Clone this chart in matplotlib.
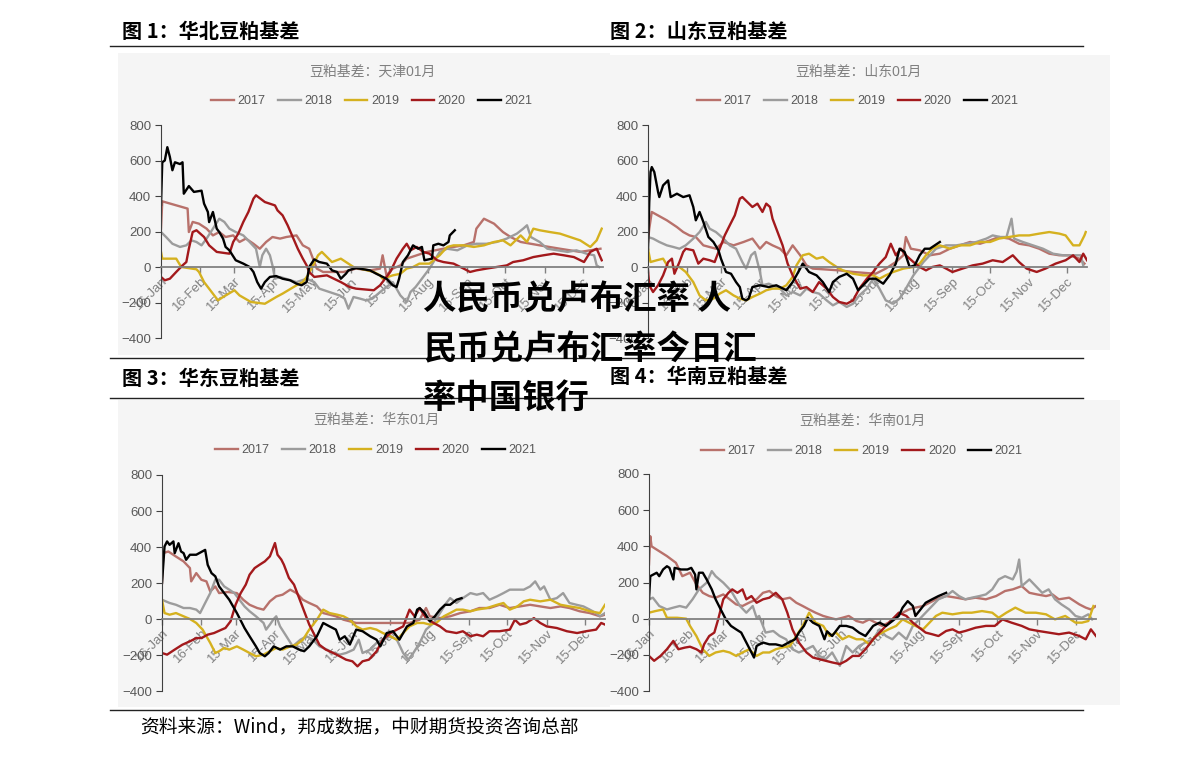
import numpy as np
import matplotlib.pyplot as plt
import matplotlib.dates as mdates
from matplotlib.lines import Line2D
from matplotlib.patches import Rectangle

plt.rcParams['font.family'] = ['Liberation Sans', 'Noto Sans CJK SC']

# days counted from 16-Jan
years = ['2017', '2018', '2019', '2020', '2021']
colors = ['#b8716b', '#9c9c9c', '#d5b11f', '#a3191c', '#000000']
tick_dates = ['2021-01-16', '2021-02-16', '2021-03-15', '2021-04-15', '2021-05-15', '2021-06-15',
              '2021-07-15', '2021-08-15', '2021-09-15', '2021-10-15', '2021-11-15', '2021-12-15']

# 图1 天津
tj_2017 = [(0,216),(1,370),(21,329),(22,197),(25,254),(30,244),(36,216),(41,178),(46,197),(51,169),(57,178),(62,141),(67,160),(73,131),(78,103),(83,141),(88,169),(94,160),(99,169),(107,178),(112,122),(117,103),(123,-9),(128,-28),(144,-28),(154,-9),(165,-19),(173,-9),(175,66),(178,-47),(183,-9),(189,9),(194,47),(202,66),(210,85),(223,103),(231,113),(239,122),(247,141),(249,216),(255,272),(263,244),(270,197),(276,169),(284,141),(299,122),(315,103),(331,85),(347,103)]
tj_2018 = [(0,197),(4,169),(9,131),(15,113),(20,122),(24,150),(28,141),(32,122),(36,160),(41,216),(46,272),(50,254),(54,216),(59,197),(65,178),(70,141),(75,103),(78,0),(80,66),(83,103),(86,66),(88,9),(90,-66),(94,-56),(107,-85),(115,-66),(121,-85),(125,-122),(133,-141),(141,-160),(145,-178),(148,-235),(152,-169),(157,-178),(162,-188),(167,-178),(173,-141),(178,-113),(183,-85),(189,-160),(194,-197),(197,-141),(201,-113),(204,-85),(208,-47),(212,-9),(216,38),(220,85),(226,103),(234,94),(242,122),(249,131),(257,131),(265,141),(273,160),(281,188),(286,216),(289,235),(292,169),(299,141),(305,103),(313,94),(321,85),(328,94),(336,75),(342,66),(344,9),(346,0)]
tj_2019 = [(0,85),(1,47),(12,47),(16,0),(28,-13),(30,-28),(34,-85),(40,-141),(45,-188),(49,-169),(58,-131),(62,-160),(71,-197),(82,-207),(91,-169),(96,-150),(107,-103),(112,-85),(116,-47),(120,9),(124,66),(127,85),(135,28),(142,47),(152,0),(168,-28),(173,-47),(175,-66),(183,-47),(189,-38),(194,-9),(199,0),(204,19),(212,19),(220,66),(226,113),(231,122),(239,122),(247,113),(255,122),(263,141),(270,150),(276,122),(284,178),(289,141),(294,216),(299,207),(307,197),(315,188),(323,169),(331,150),(339,113),(344,150),(348,216)]
tj_2020 = [(0,-56),(3,-75),(7,-66),(12,-28),(17,9),(20,28),(22,103),(25,197),(28,207),(34,169),(38,122),(44,85),(54,75),(57,141),(61,188),(65,254),(69,310),(73,385),(75,404),(82,366),(90,347),(92,319),(96,291),(100,235),(104,169),(108,103),(112,47),(115,9),(117,-28),(121,-56),(131,-47),(142,-85),(149,-113),(154,-122),(168,-131),(173,-103),(181,-28),(186,47),(191,103),(194,131),(197,94),(202,113),(207,85),(212,75),(218,38),(223,28),(231,19),(239,-9),(244,-28),(249,-19),(257,-9),(265,0),(273,9),(278,28),(286,38),(294,56),(302,66),(310,75),(318,66),(326,56),(334,28),(339,85),(344,103),(348,38)]
tj_2021 = [(0,350),(1,590),(3,600),(5,675),(7,620),(9,545),(11,590),(15,580),(17,590),(18,413),(22,456),(26,423),(32,430),(34,357),(37,310),(38,253),(41,310),(44,216),(46,197),(49,160),(51,113),(54,94),(59,38),(65,19),(70,0),(73,-28),(76,-85),(79,-122),(82,-85),(86,-56),(91,-51),(96,-66),(102,-75),(107,-94),(111,-103),(115,-85),(117,0),(121,43),(125,28),(131,19),(135,-19),(139,-28),(142,-66),(146,-38),(148,-19),(154,-6),(160,-13),(165,-19),(170,-38),(178,-66),(183,-103),(186,-113),(188,-66),(191,28),(195,66),(199,122),(203,103),(206,113),(208,38),(214,47),(215,122),(219,131),(223,122),(227,141),(228,178),(232,207)]

# 图2 山东
sd_2017 = [(0,141),(1,216),(3,310),(15,263),(23,225),(28,197),(33,178),(38,169),(44,122),(54,103),(60,141),(68,122),(76,141),(83,160),(89,103),(94,141),(99,122),(105,103),(110,66),(115,122),(121,66),(126,9),(131,-9),(152,-19),(163,-28),(181,-38),(189,-9),(197,28),(203,66),(205,169),(209,103),(216,94),(224,66),(232,75),(240,103),(248,122),(256,141),(264,131),(272,150),(279,169),(287,160),(295,131),(303,122),(311,103),(319,75),(327,66),(335,66),(343,47),(347,19)]
sd_2018 = [(0,169),(4,160),(9,141),(15,122),(20,113),(25,103),(30,122),(36,160),(41,197),(46,254),(49,216),(54,197),(60,160),(65,122),(70,103),(75,28),(78,-9),(82,66),(85,85),(89,-28),(91,-103),(96,-94),(105,-122),(110,-160),(115,-141),(121,-160),(126,-122),(131,-141),(136,-150),(142,-188),(147,-216),(152,-197),(158,-225),(163,-207),(168,-160),(174,-122),(179,-66),(184,-122),(189,-188),(195,-207),(200,-178),(205,-122),(211,-47),(215,-9),(219,28),(224,66),(229,103),(237,122),(245,122),(253,131),(261,141),(269,160),(274,178),(280,169),(285,169),(289,272),(291,160),(298,141),(306,122),(314,103),(322,75),(330,66),(338,66),(344,66),(346,9)]
sd_2019 = [(0,103),(2,28),(7,38),(12,47),(16,0),(25,0),(30,-28),(36,-85),(41,-160),(46,-188),(52,-178),(57,-150),(62,-131),(68,-160),(73,-178),(78,-188),(83,-169),(89,-150),(94,-131),(99,-122),(105,-122),(110,-103),(115,-56),(118,9),(123,66),(128,75),(134,47),(139,56),(144,28),(150,0),(155,-19),(163,-38),(171,-47),(179,-47),(184,-66),(189,-47),(195,-28),(203,-9),(211,0),(216,19),(221,66),(226,103),(232,122),(240,103),(248,122),(256,122),(264,141),(272,141),(279,160),(287,169),(295,178),(303,178),(311,188),(319,197),(327,188),(332,178),(338,122),(343,122),(347,178),(348,197)]
sd_2020 = [(0,-20),(1,-103),(4,-141),(8,-103),(12,-47),(16,28),(19,47),(21,-38),(25,28),(28,85),(30,103),(36,94),(40,19),(44,47),(49,38),(53,28),(57,103),(61,178),(65,235),(69,291),(73,385),(75,394),(79,366),(83,338),(87,357),(91,310),(94,357),(97,338),(99,272),(103,197),(107,122),(111,19),(115,-47),(121,-122),(126,-113),(131,-141),(136,-85),(142,-122),(147,-169),(152,-197),(158,-207),(163,-188),(168,-122),(174,-66),(179,-28),(184,19),(189,56),(193,131),(197,66),(201,103),(205,66),(211,28),(216,0),(221,-19),(226,0),(232,9),(237,-9),(242,-28),(250,-9),(258,9),(266,19),(274,38),(282,28),(290,66),(295,28),(301,-9),(309,-28),(316,-9),(324,19),(332,38),(338,66),(343,28),(346,75),(349,38)]
sd_2021 = [(0,100),(1,366),(2,535),(3,563),(5,535),(8,423),(9,394),(12,460),(16,488),(18,394),(23,413),(28,394),(33,404),(36,338),(38,263),(41,310),(44,254),(48,169),(52,141),(56,94),(58,47),(62,-28),(66,-38),(70,-85),(73,-113),(75,-178),(78,-188),(80,-178),(83,-113),(89,-103),(96,-113),(102,-103),(110,-131),(115,-85),(121,-9),(123,19),(128,-28),(134,-47),(139,-85),(144,-141),(147,-85),(152,-56),(158,-38),(163,-66),(167,-131),(171,-103),(176,-66),(181,-66),(187,-94),(192,-47),(197,19),(200,103),(204,85),(208,0),(212,9),(216,66),(220,103),(224,103),(228,122),(232,141)]

# 图3 华东
hd_2017 = [(0,200),(1,366),(5,375),(11,347),(17,320),(22,283),(23,209),(27,255),(31,218),(35,209),(38,153),(42,181),(45,144),(52,150),(59,144),(64,107),(69,79),(75,61),(80,52),(85,98),(90,126),(95,135),(101,163),(106,144),(111,107),(116,89),(122,70),(127,33),(132,24),(137,15),(143,-4),(148,-13),(153,-22),(165,-22),(174,-22),(181,-22),(188,-22),(195,-22),(203,-4),(208,61),(211,15),(219,5),(227,15),(235,33),(243,43),(250,61),(258,61),(266,79),(274,61),(282,70),(290,79),(298,70),(306,61),(314,70),(321,61),(329,43),(337,33),(345,15),(349,24)]
hd_2018 = [(0,107),(6,89),(11,79),(17,61),(22,61),(27,52),(30,33),(34,89),(38,144),(42,218),(45,218),(49,181),(53,163),(57,144),(61,107),(65,70),(69,43),(74,15),(80,-22),(82,-59),(85,-31),(88,0),(90,15),(93,-41),(98,-96),(103,-152),(109,-115),(114,-96),(119,-115),(124,-152),(130,-170),(135,-189),(140,-198),(145,-189),(151,-170),(155,-115),(158,-189),(164,-170),(169,-133),(174,-115),(180,-96),(185,-115),(190,-189),(194,-226),(198,-189),(203,-133),(208,-59),(214,-22),(219,33),(224,89),(227,116),(232,89),(237,116),(243,144),(248,135),(253,144),(258,107),(264,126),(269,144),(274,163),(280,163),(285,163),(290,181),(294,209),(298,163),(301,181),(306,107),(311,116),(316,144),(321,89),(326,80),(332,70),(337,52),(342,33),(345,15),(349,33)]
hd_2019 = [(0,107),(2,33),(6,24),(11,33),(17,15),(22,0),(27,-22),(32,-59),(38,-133),(42,-189),(45,-179),(49,-161),(53,-170),(59,-152),(64,-170),(69,-189),(74,-207),(80,-198),(85,-179),(90,-161),(95,-170),(101,-152),(106,-142),(111,-115),(116,-59),(122,-4),(127,52),(132,33),(138,24),(143,15),(148,-4),(153,-41),(158,-59),(164,-50),(169,-59),(174,-78),(180,-96),(185,-115),(190,-78),(195,-41),(201,-22),(206,-22),(211,-31),(216,-22),(222,15),(227,33),(232,52),(237,52),(243,43),(248,52),(256,61),(264,79),(269,89),(274,52),(280,70),(285,98),(290,107),(298,98),(306,107),(314,79),(321,70),(329,61),(337,43),(345,33),(349,79)]
hd_2020 = [(0,-189),(4,-198),(10,-170),(16,-143),(22,-124),(27,-106),(31,-106),(36,-87),(41,-78),(47,-59),(50,-50),(54,-13),(58,80),(62,144),(66,191),(69,246),(73,283),(77,302),(81,320),(85,348),(89,422),(91,357),(94,330),(96,302),(100,228),(104,191),(108,117),(112,43),(116,-31),(120,-87),(124,-143),(129,-170),(135,-189),(140,-207),(145,-226),(150,-235),(154,-263),(158,-235),(163,-226),(169,-180),(174,-115),(180,-78),(185,-59),(190,-41),(195,52),(199,15),(203,61),(208,5),(214,-22),(219,-41),(224,-68),(232,-78),(237,-68),(243,-96),(248,-87),(253,-96),(258,-68),(266,-68),(274,-59),(278,-4),(282,-31),(287,-22),(293,5),(298,-22),(303,-41),(311,-50),(319,-68),(327,-78),(334,-68),(342,-59),(346,-22),(349,-31)]
hd_2021 = [(0,200),(2,403),(4,431),(6,412),(9,431),(10,366),(13,421),(15,375),(17,366),(19,329),(22,357),(27,357),(34,384),(36,301),(39,255),(42,237),(45,181),(49,144),(53,107),(59,33),(63,-22),(65,-50),(69,-96),(74,-152),(77,-189),(81,-207),(84,-189),(88,-152),(93,-170),(98,-152),(103,-152),(108,-170),(112,-179),(116,-152),(122,-96),(127,-22),(132,-41),(137,-59),(140,-115),(144,-96),(148,-142),(153,-59),(158,-68),(164,-96),(169,-115),(172,-152),(177,-78),(182,-68),(187,-115),(193,-41),(198,-22),(201,52),(203,61),(207,33),(211,-13),(215,15),(219,52),(223,79),(227,79),(232,107),(236,116)]

# 图4 华南
hn_2017 = [(0,300),(1,456),(2,400),(6,382),(14,346),(21,309),(26,235),(32,254),(37,189),(42,143),(47,125),(52,116),(58,134),(63,107),(68,79),(73,70),(78,88),(84,107),(89,143),(94,153),(99,125),(104,107),(110,116),(115,88),(120,70),(125,51),(130,33),(136,15),(141,5),(146,-4),(151,5),(156,15),(162,-13),(167,-22),(172,-4),(177,-22),(182,-40),(187,-22),(193,15),(198,33),(203,51),(208,61),(214,70),(219,88),(224,107),(232,125),(240,116),(247,107),(255,116),(263,107),(271,125),(278,153),(284,162),(291,180),(297,143),(303,134),(310,125),(315,134),(320,107),(328,116),(336,79),(341,61),(345,51),(349,70)]
hn_2018 = [(0,107),(3,116),(8,70),(14,51),(19,61),(24,70),(29,61),(34,107),(39,162),(45,199),(49,263),(52,235),(58,199),(63,162),(65,143),(71,70),(76,33),(81,70),(84,5),(86,15),(89,-40),(91,-77),(97,-68),(102,-96),(107,-114),(112,-169),(117,-187),(123,-169),(128,-151),(133,-206),(138,-224),(143,-187),(149,-261),(154,-151),(159,-187),(164,-151),(169,-132),(175,-114),(180,-59),(185,-96),(190,-114),(195,-77),(201,-114),(206,-40),(211,-4),(216,33),(221,70),(226,107),(232,125),(237,153),(242,125),(247,107),(252,116),(258,125),(263,134),(268,162),(273,217),(278,235),(284,217),(287,260),(289,327),(291,180),(297,217),(302,180),(307,143),(312,162),(317,107),(322,79),(328,51),(333,15),(338,5),(343,24),(346,-4)]
hn_2019 = [(0,33),(5,42),(11,51),(14,5),(22,5),(29,0),(32,-40),(37,-96),(42,-169),(47,-206),(52,-187),(58,-178),(63,-187),(68,-206),(73,-187),(78,-170),(84,-206),(89,-187),(94,-187),(99,-169),(104,-160),(110,-151),(115,-96),(120,-40),(125,33),(130,-22),(136,-40),(141,-96),(146,-77),(151,-114),(156,-96),(162,-114),(167,-114),(172,-142),(177,-96),(182,-77),(187,-59),(193,-40),(198,-4),(203,-22),(208,-40),(214,-59),(219,-22),(224,15),(229,33),(237,24),(245,33),(252,33),(260,42),(268,33),(273,5),(279,33),(286,61),(294,33),(302,33),(310,24),(317,-4),(325,15),(333,-22),(338,-22),(343,-13),(347,70)]
hn_2020 = [(0,-206),(4,-233),(9,-206),(14,-169),(19,-123),(23,-169),(28,-160),(32,-155),(37,-169),(41,-187),(43,-142),(47,-96),(51,-77),(54,-4),(58,107),(62,143),(65,162),(69,143),(73,162),(76,107),(80,125),(84,88),(89,107),(94,116),(99,143),(104,107),(108,33),(112,-59),(117,-132),(123,-187),(128,-215),(133,-224),(138,-233),(143,-242),(149,-251),(154,-233),(159,-206),(164,-206),(169,-169),(175,-114),(180,-77),(185,-40),(190,-4),(195,33),(201,15),(206,-22),(211,-50),(216,-77),(221,-86),(226,-96),(232,-68),(237,-59),(242,-77),(247,-68),(255,-50),(263,-40),(270,-40),(276,-4),(283,-22),(291,-40),(297,-59),(304,-68),(312,-77),(320,-86),(328,-77),(336,-96),(341,-114),(345,-59),(349,-96)]
hn_2021 = [(0,107),(1,235),(6,254),(8,235),(11,272),(14,290),(16,281),(19,217),(20,281),(25,272),(30,272),(33,281),(36,244),(37,162),(39,254),(42,254),(45,217),(49,162),(52,107),(56,51),(60,-4),(64,-40),(68,-59),(72,-77),(76,-132),(80,-187),(82,-215),(84,-151),(89,-132),(94,-142),(99,-142),(104,-151),(109,-132),(114,-114),(117,-77),(121,-40),(124,5),(128,-22),(133,-40),(137,-114),(139,-70),(143,-96),(149,-40),(154,-40),(159,-50),(164,-77),(169,-96),(175,-40),(180,-22),(185,-40),(190,-13),(195,15),(198,61),(202,97),(206,70),(208,15),(212,51),(216,88),(221,107),(226,125),(232,143)]

W, H = 1191, 757
fig = plt.figure(figsize=(W / 100, H / 100), dpi=100)


def fx(px):
    return px / W


def fy(py):
    return 1 - py / H


base = np.datetime64('2021-01-16')

panels = [
    # header, title, series, axes (l, t, r, b) px, header pos, title/legend centre
    ('图 1：华北豆粕基差', '豆粕基差：天津01月', [tj_2017, tj_2018, tj_2019, tj_2020, tj_2021],
     (161, 125, 603, 338), (122, 31), (372, 72, 101)),
    ('图 2：山东豆粕基差', '豆粕基差：山东01月', [sd_2017, sd_2018, sd_2019, sd_2020, sd_2021],
     (648, 125, 1087, 338), (610, 31), (858, 72, 101)),
    ('图 3：华东豆粕基差', '豆粕基差：华东01月', [hd_2017, hd_2018, hd_2019, hd_2020, hd_2021],
     (162, 475, 605, 691), (122, 378), (376, 420, 450)),
    ('图 4：华南豆粕基差', '豆粕基差：华南01月', [hn_2017, hn_2018, hn_2019, hn_2020, hn_2021],
     (649, 474, 1096, 691), (610, 376), (862, 421, 451)),
]

# grey chart backgrounds
for (l, t, r, b) in [(118, 53, 610, 355), (600, 55, 1110, 350), (118, 400, 610, 707), (600, 400, 1120, 705)]:
    fig.add_artist(Rectangle((fx(l), fy(b)), fx(r - l), (b - t) / H, transform=fig.transFigure,
                             facecolor='#f5f5f5', edgecolor='none', zorder=-2))

# rules
for y in [46, 358, 398, 710]:
    fig.add_artist(Line2D([fx(110), fx(1083)], [fy(y), fy(y)], color='#222222', lw=1.0, zorder=1))

for header, title, series, (l, t, r, b), (hx, hy), (cx, ty, ly) in panels:
    fig.text(fx(hx), fy(hy), header, fontsize=14.5, weight='bold', va='center',
             family=['Noto Sans CJK SC'])
    fig.text(fx(cx), fy(ty), title, fontsize=10, color='#808080', ha='center', va='center')

    ax = fig.add_axes([fx(l), fy(b), fx(r - l), (b - t) / H])
    ax.patch.set_alpha(0)
    for year, color, data in zip(years, colors, series):
        days = np.array([p[0] for p in data])
        vals = [p[1] for p in data]
        x = mdates.date2num(base + days.astype('timedelta64[D]'))
        ax.plot(x, vals, color=color, lw=1.7, label=year, solid_joinstyle='round')

    ax.set_ylim(-400, 800)
    ax.set_yticks(range(-400, 801, 200))
    ax.set_xlim(mdates.date2num(base), mdates.date2num(base + np.timedelta64(349, 'D')))
    ax.set_xticks(mdates.date2num(np.array(tick_dates, dtype='datetime64[D]')))
    ax.xaxis.set_major_formatter(mdates.DateFormatter('%d-%b'))
    ax.spines['bottom'].set_position(('data', 0))
    ax.spines['bottom'].set_color('#808080')
    ax.spines['bottom'].set_linewidth(1.3)
    ax.spines['left'].set_color('#404040')
    ax.spines['left'].set_linewidth(0.8)
    ax.spines['top'].set_visible(False)
    ax.spines['right'].set_visible(False)
    ax.tick_params(axis='y', direction='out', length=4, width=0.8, color='#404040',
                   labelsize=9.5, labelcolor='#595959', pad=3)
    ax.tick_params(axis='x', direction='out', length=4, width=1.0, color='#808080',
                   labelsize=9.5, labelcolor='#808080', pad=2)
    for lab in ax.get_xticklabels():
        lab.set_rotation(45)
        lab.set_ha('right')
        lab.set_rotation_mode('anchor')

    ax.legend(ncol=5, loc='center', bbox_to_anchor=(fx(cx), fy(ly)), bbox_transform=fig.transFigure,
              frameon=False, fontsize=9, handlelength=1.8, handletextpad=0.3, columnspacing=1.0,
              labelcolor='#595959')

fig.text(fx(140), fy(727), '资料来源：Wind，邦成数据，中财期货投资咨询总部', fontsize=13.5, va='center',
         family=['Noto Sans CJK SC'])

# overlay caption
for y, line in [(300, '人民币兑卢布汇率 人'), (350, '民币兑卢布汇率今日汇'), (398, '率中国银行')]:
    fig.text(fx(423), fy(y), line, fontsize=24, weight='heavy', va='center', color='black',
             family=['Noto Sans CJK SC'], zorder=10)

fig.savefig('out.png', dpi=100)
